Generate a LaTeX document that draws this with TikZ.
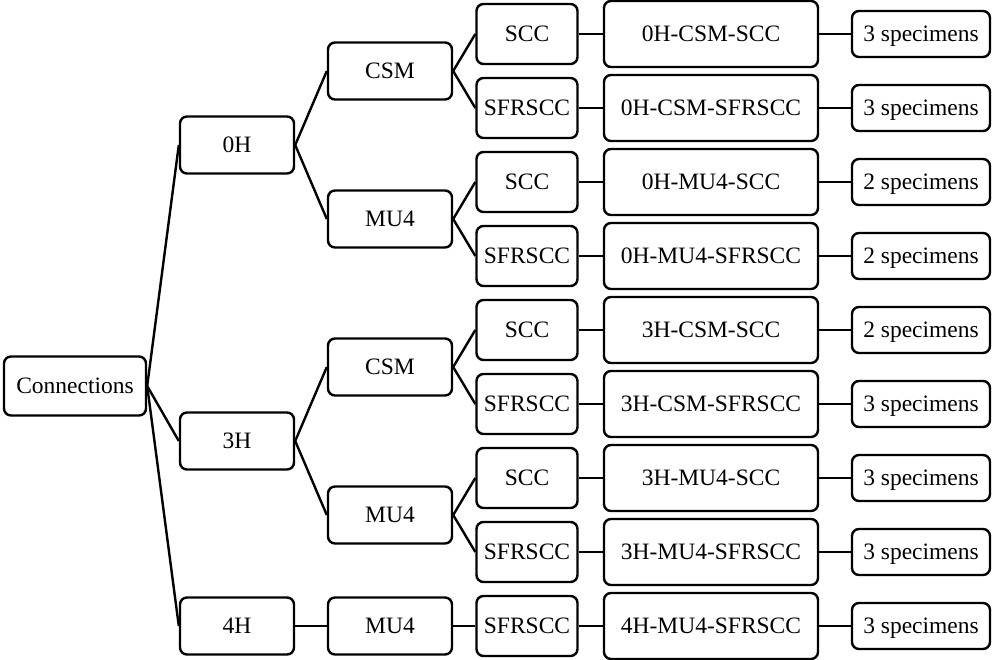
\documentclass[tikz,border=0pt]{standalone}
\usepackage{fontspec}
\setmainfont{Liberation Serif}
\begin{document}
\begin{tikzpicture}[x=1pt,y=-1pt,
	box/.style={draw=black,line width=2.4pt,rounded corners=7pt,inner sep=0pt,align=center,text height=17pt,text depth=3pt,font=\fontsize{23.5}{26}\selectfont},
	root/.style={box,minimum width=142pt,minimum height=59pt},
	lvla/.style={box,minimum width=114pt,minimum height=57pt},
	lvlb/.style={box,minimum width=124pt,minimum height=57pt},
	conc/.style={box,minimum width=101pt,minimum height=60pt},
	spec/.style={box,minimum width=214pt,minimum height=66pt},
	count/.style={box,minimum width=138pt,minimum height=46pt},
	link/.style={line width=2.4pt}]
	\useasboundingbox (0,0) rectangle (993,659);
	
	\node[root] (conn) at (75,386) {Connections};
	
	\node[lvla] (h0) at (237,145) {0H};
	\node[lvla] (h3) at (237,441) {3H};
	\node[lvla] (h4) at (237,626) {4H};
	
	\node[lvlb] (h0csm) at (390,71) {CSM};
	\node[lvlb] (h0mu) at (390,219) {MU4};
	\node[lvlb] (h3csm) at (390,367) {CSM};
	\node[lvlb] (h3mu) at (390,515) {MU4};
	\node[lvlb] (h4mu) at (390,626) {MU4};
	
	\node[conc] (c1) at (527,34) {SCC};
	\node[conc] (c2) at (527,108) {SFRSCC};
	\node[conc] (c3) at (527,182) {SCC};
	\node[conc] (c4) at (527,256) {SFRSCC};
	\node[conc] (c5) at (527,330) {SCC};
	\node[conc] (c6) at (527,404) {SFRSCC};
	\node[conc] (c7) at (527,478) {SCC};
	\node[conc] (c8) at (527,552) {SFRSCC};
	\node[conc] (c9) at (527,626) {SFRSCC};
	
	\node[spec] (s1) at (711,34) {0H-CSM-SCC};
	\node[spec] (s2) at (711,108) {0H-CSM-SFRSCC};
	\node[spec] (s3) at (711,182) {0H-MU4-SCC};
	\node[spec] (s4) at (711,256) {0H-MU4-SFRSCC};
	\node[spec] (s5) at (711,330) {3H-CSM-SCC};
	\node[spec] (s6) at (711,404) {3H-CSM-SFRSCC};
	\node[spec] (s7) at (711,478) {3H-MU4-SCC};
	\node[spec] (s8) at (711,552) {3H-MU4-SFRSCC};
	\node[spec] (s9) at (711,626) {4H-MU4-SFRSCC};
	
	\node[count] (n1) at (921,34) {3 specimens};
	\node[count] (n2) at (921,108) {3 specimens};
	\node[count] (n3) at (921,182) {2 specimens};
	\node[count] (n4) at (921,256) {2 specimens};
	\node[count] (n5) at (921,330) {2 specimens};
	\node[count] (n6) at (921,404) {3 specimens};
	\node[count] (n7) at (921,478) {3 specimens};
	\node[count] (n8) at (921,552) {3 specimens};
	\node[count] (n9) at (921,626) {3 specimens};
	
	% tree branches
	\draw[link] (conn.east) -- (h0.west);
	\draw[link] (conn.east) -- (h3.west);
	\draw[link] (conn.east) -- (h4.west);
	\draw[link] (h0.east) -- (h0csm.west);
	\draw[link] (h0.east) -- (h0mu.west);
	\draw[link] (h3.east) -- (h3csm.west);
	\draw[link] (h3.east) -- (h3mu.west);
	\draw[link] (h4.east) -- (h4mu.west);
	\draw[link] (h0csm.east) -- (c1.west);
	\draw[link] (h0csm.east) -- (c2.west);
	\draw[link] (h0mu.east) -- (c3.west);
	\draw[link] (h0mu.east) -- (c4.west);
	\draw[link] (h3csm.east) -- (c5.west);
	\draw[link] (h3csm.east) -- (c6.west);
	\draw[link] (h3mu.east) -- (c7.west);
	\draw[link] (h3mu.east) -- (c8.west);
	\draw[link] (h4mu.east) -- (c9.west);
	
	\foreach \i in {1,...,9}{
		\draw[link] (c\i.east) -- (s\i.west);
		\draw[link] (s\i.east) -- (n\i.west);
	}
	
\end{tikzpicture}
\end{document}
